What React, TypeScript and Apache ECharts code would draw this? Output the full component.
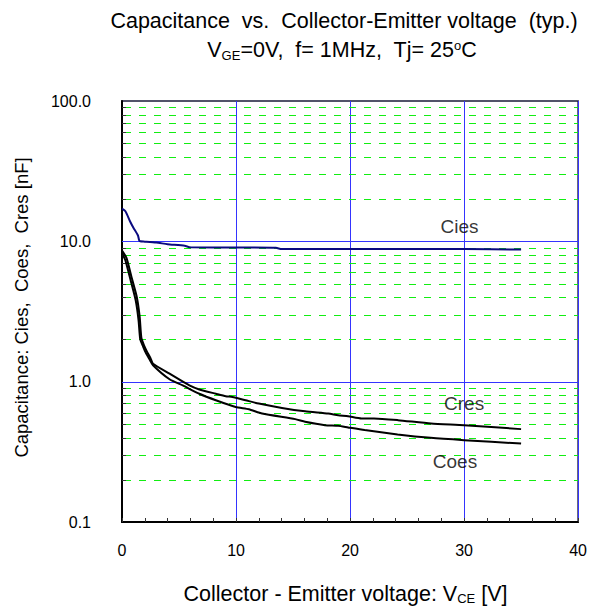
import React, { useEffect, useRef } from "react";
import * as echarts from "echarts";

const ciesX = [0, 0.3, 0.7, 1.0, 1.4, 1.5, 1.6, 2.0, 3.0, 4.0, 5.5, 6.0, 10, 13.5, 14, 20, 30, 35];
const ciesY = [17.1, 16.4, 13.9, 12.5, 11.0, 10.2, 10.0, 9.95, 9.8, 9.55, 9.3, 9.06, 9.05, 9.0, 8.8, 8.8, 8.8, 8.75];

const cresX = [0, 0.4, 0.85, 1.3, 1.55, 1.7, 1.95, 2.2, 2.5, 2.72, 4.17, 5.91, 6.78, 8.23, 9.1, 9.68, 10.84, 12.0, 14.03, 16.06, 18.09, 18.96, 19.83, 21.0, 22.1, 24.2, 27.1, 30.0, 35.0];
const cresY = [8.6, 7.6, 5.5, 4.0, 2.9, 2.05, 1.8, 1.63, 1.47, 1.34, 1.14, 0.94, 0.88, 0.82, 0.787, 0.778, 0.737, 0.698, 0.65, 0.615, 0.593, 0.577, 0.568, 0.547, 0.547, 0.532, 0.504, 0.49, 0.459];

const coesX = [0, 0.3, 0.75, 1.2, 1.45, 1.6, 1.85, 2.1, 2.4, 2.72, 4.17, 5.33, 6.78, 8.23, 9.97, 11.13, 12.29, 15.19, 16.06, 17.8, 18.96, 19.83, 21.28, 24.17, 27.07, 30.0, 35.0];
const coesY = [8.3, 7.3, 5.3, 3.8, 2.75, 2.0, 1.78, 1.6, 1.45, 1.31, 1.04, 0.94, 0.82, 0.737, 0.66, 0.636, 0.593, 0.541, 0.518, 0.49, 0.485, 0.472, 0.452, 0.421, 0.398, 0.383, 0.362];

const seriesNames = ["Cies", "Cres", "Coes"];
const labelX = [29.6, 30.0, 29.2];
const labelY = [12.8, 0.698, 0.271];

const minorGridValues = [
  0.2, 0.3, 0.4, 0.5, 0.6, 0.7, 0.8, 0.9,
  2, 3, 4, 5, 6, 7, 8, 9,
  20, 30, 40, 50, 60, 70, 80, 90,
];
const majorYTicks = [0.1, 1, 10, 100];
const majorYGrid = [1, 10];
const xTicks = [0, 10, 20, 30, 40];
const xMin = 0;
const xMax = 40;

const FONT = "Liberation Sans, Arial, sans-serif";

function zip(xs: number[], ys: number[]) {
  return xs.map((x, i) => [x, ys[i]]);
}

export default function App() {
  const ref = useRef<HTMLDivElement>(null);
  useEffect(() => {
    if (!ref.current) return;
    const chart = echarts.init(ref.current, undefined, { renderer: "svg" });
    chart.setOption({
      animation: false,
      backgroundColor: "#ffffff",
      textStyle: { fontFamily: FONT },
      graphic: [
        {
          type: "text",
          x: 344,
          y: 21,
          style: {
            text: "Capacitance  vs.  Collector-Emitter voltage  (typ.)",
            font: `21.5px ${FONT}`,
            fill: "#000",
            textAlign: "center",
            textVerticalAlign: "middle",
          },
        },
        {
          type: "text",
          x: 342,
          y: 50,
          style: {
            text: "{a|V}{sub|GE}{a|=0V,  f= 1MHz,  Tj= 25}{sup|o}{a|C}",
            textAlign: "center",
            textVerticalAlign: "middle",
            rich: {
              a: { fontSize: 21.5, fontFamily: FONT, fill: "#000" },
              sub: { fontSize: 13, fontFamily: FONT, fill: "#000", padding: [10, 0, 0, 0] },
              sup: { fontSize: 13, fontFamily: FONT, fill: "#000", padding: [0, 0, 10, 0] },
            },
          },
        },
      ],
      grid: {
        left: 122,
        top: 101,
        width: 460,
        height: 423,
        show: true,
        borderColor: "#1a1a3a",
        borderWidth: 1.5,
        backgroundColor: "transparent",
      },
      xAxis: {
        type: "value",
        min: xMin,
        max: xMax,
        interval: 10,
        name: "{a|Collector - Emitter voltage: V}{sub|CE}{a| [V]}",
        nameLocation: "middle",
        nameGap: 60,
        nameTextStyle: {
          padding: [0, 9, 0, 0],
          rich: {
            a: { fontSize: 21.5, fontFamily: FONT, color: "#000" },
            sub: { fontSize: 13, fontFamily: FONT, color: "#000", padding: [10, 0, 0, 0] },
          },
        },
        axisLine: { show: true, lineStyle: { color: "#000", width: 2 } },
        axisTick: { show: true, inside: true, length: 4, lineStyle: { color: "#333" } },
        minorTick: { show: true, splitNumber: 5, length: 4, lineStyle: { color: "#333" } },
        axisLabel: {
          fontSize: 16,
          fontFamily: FONT,
          color: "#000",
          margin: 20,
          formatter: (v: number) => (xTicks.includes(v) ? String(v) : ""),
        },
        splitLine: { show: true, lineStyle: { color: "#3434ff", width: 1 } },
      },
      yAxis: {
        type: "log",
        logBase: 10,
        min: 0.1,
        max: 100,
        name: "Capacitance: Cies,  Coes,  Cres [nF]",
        nameLocation: "middle",
        nameGap: 91,
        nameTextStyle: { fontSize: 18.5, fontFamily: FONT, color: "#000", padding: [0, 0, 0, 8] },
        axisLine: { show: true, lineStyle: { color: "#000", width: 2 } },
        axisTick: { show: false },
        axisLabel: {
          fontSize: 16,
          fontFamily: FONT,
          color: "#000",
          margin: 31,
          formatter: (v: number) => {
            const m = majorYTicks.find((t) => Math.abs(t - v) / t < 1e-6);
            return m !== undefined ? m.toFixed(1) : "";
          },
        },
        splitLine: { show: false },
      },
      series: [
        {
          type: "custom",
          name: "minorGrid",
          silent: true,
          z: 1,
          data: minorGridValues.map((v) => [v]),
          dimensions: ["y"],
          encode: { y: 0 },
          renderItem: (params: any, api: any) => {
            const v = api.value(0);
            const a = api.coord([xMin, v]);
            const b = api.coord([xMax, v]);
            const y = Math.round(a[1]) + 0.5;
            return {
              type: "group",
              children: [
                {
                  type: "line",
                  shape: { x1: a[0] + 2, y1: y, x2: b[0], y2: y },
                  style: { stroke: "#11ee11", lineWidth: 1, lineDash: [7, 8] },
                },
                {
                  type: "line",
                  shape: { x1: a[0], y1: y, x2: a[0] + 4, y2: y },
                  style: { stroke: "#333333", lineWidth: 1 },
                },
              ],
            };
          },
        },
        {
          type: "custom",
          name: "majorGrid",
          silent: true,
          z: 1,
          data: majorYGrid.map((v) => [v]),
          dimensions: ["y"],
          encode: { y: 0 },
          renderItem: (params: any, api: any) => {
            const v = api.value(0);
            const a = api.coord([xMin, v]);
            const b = api.coord([xMax, v]);
            const y = Math.round(a[1]) + 0.5;
            return {
              type: "line",
              shape: { x1: a[0], y1: y, x2: b[0], y2: y },
              style: { stroke: "#3434ff", lineWidth: 1 },
            };
          },
        },
        {
          type: "line",
          name: "Cies",
          data: zip(ciesX, ciesY),
          showSymbol: false,
          smooth: 0.2,
          z: 3,
          lineStyle: { color: "#0a0a80", width: 2 },
        },
        {
          type: "line",
          name: "Cres",
          data: zip(cresX, cresY),
          showSymbol: false,
          smooth: 0.2,
          z: 3,
          lineStyle: { color: "#000000", width: 2 },
        },
        {
          type: "line",
          name: "Coes",
          data: zip(coesX, coesY),
          showSymbol: false,
          smooth: 0.2,
          z: 3,
          lineStyle: { color: "#000000", width: 2 },
        },
        {
          type: "scatter",
          name: "labels",
          symbolSize: 0,
          z: 4,
          data: seriesNames.map((n, i) => ({ name: n, value: [labelX[i], labelY[i]] })),
          label: {
            show: true,
            position: "inside",
            formatter: (p: any) => p.name,
            fontSize: 19,
            fontFamily: FONT,
            color: "#000",
          },
        },
      ],
    });
    return () => chart.dispose();
  }, []);
  return (
    <div
      ref={ref}
      style={{ position: "fixed", left: 0, top: 0, width: 590, height: 610 }}
    />
  );
}
